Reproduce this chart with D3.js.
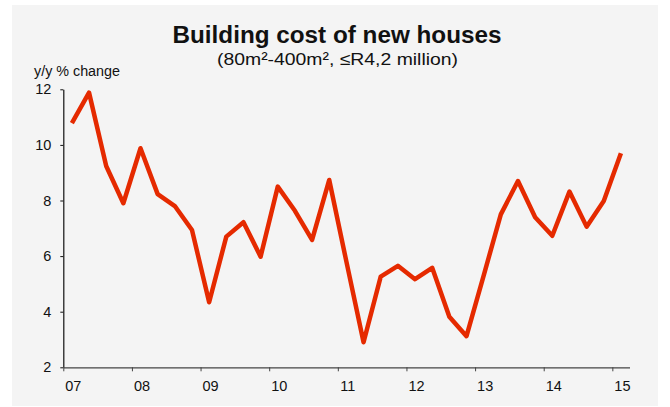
<!DOCTYPE html>
<html>
<head>
<meta charset="utf-8">
<script src="https://cdn.jsdelivr.net/npm/d3@7"></script>
<style>
  html, body { margin: 0; padding: 0; background: #ffffff; }
  svg { display: block; }
  text { font-family: "Liberation Sans", Arial, sans-serif; fill: #111; }
</style>
</head>
<body>
<svg id="chart" width="670" height="407"></svg>
<script>
// Quarterly year-on-year change in building cost, 2007Q1 to 2015Q1
const quarters = [
  "07Q1","07Q2","07Q3","07Q4","08Q1","08Q2","08Q3","08Q4",
  "09Q1","09Q2","09Q3","09Q4","10Q1","10Q2","10Q3","10Q4",
  "11Q1","11Q2","11Q3","11Q4","12Q1","12Q2","12Q3","12Q4",
  "13Q1","13Q2","13Q3","13Q4","14Q1","14Q2","14Q3","14Q4",
  "15Q1"
];
const costChange = [
  10.78, 11.88, 9.24, 7.9, 9.88, 8.23, 7.8, 6.94,
  4.34, 6.7, 7.22, 5.98, 8.5, 7.63, 6.58, 8.74,
  5.8, 2.9, 5.26, 5.65, 5.17, 5.58, 3.82, 3.12,
  5.3, 7.5, 8.7, 7.4, 6.73, 8.32, 7.06, 7.98,
  9.7
];
const yearLabels = ["07","08","09","10","11","12","13","14","15"];
const yTicks = [2, 4, 6, 8, 10, 12];

const svg = d3.select("#chart");

// panel background
svg.append("rect")
  .attr("x", 12).attr("y", 5)
  .attr("width", 646).attr("height", 401)
  .attr("fill", "#f4f4f4");

const plotLeft = 63.3, plotRight = 629.5, plotTop = 89.3, plotBottom = 367.3;

// one slot per quarter; year ticks sit on slot boundaries
const x = d3.scaleLinear().domain([0, quarters.length]).range([plotLeft, plotRight]);
const slot = x(1) - x(0);
const y = d3.scaleLinear().domain([2, 12]).range([plotBottom, plotTop]);

// y axis
const yAxis = svg.append("g")
  .attr("transform", `translate(${plotLeft},0)`)
  .call(d3.axisLeft(y).tickValues(yTicks).tickSize(3).tickSizeOuter(0).tickPadding(9));
yAxis.select(".domain").attr("stroke", "#111").attr("stroke-width", 1.2);
yAxis.selectAll(".tick line").attr("stroke", "#111");
yAxis.selectAll(".tick text")
  .style("font-size", "14.5px")
  .style("font-family", "Liberation Sans, Arial, sans-serif")
  .attr("fill", "#111");

// x axis: ticks at the start of each year, labels over that year's first quarter
const xAxis = svg.append("g")
  .attr("transform", `translate(0,${plotBottom})`)
  .call(d3.axisBottom(x)
    .tickValues(yearLabels.map((d, i) => i * 4))
    .tickFormat((d, i) => yearLabels[i])
    .tickSize(4).tickSizeOuter(0).tickPadding(9));
xAxis.select(".domain").attr("stroke", "#444").attr("stroke-width", 1.2);
xAxis.selectAll(".tick line").attr("stroke", "#444");
xAxis.selectAll(".tick text")
  .attr("x", slot / 2 + 1)
  .style("font-size", "14.5px")
  .style("font-family", "Liberation Sans, Arial, sans-serif")
  .attr("fill", "#111");

// series line
const line = d3.line()
  .x((d, i) => x(i + 0.5))
  .y(d => y(d));

svg.append("path")
  .datum(costChange)
  .attr("d", line)
  .attr("fill", "none")
  .attr("stroke", "#e52a00")
  .attr("stroke-width", 4.5)
  .attr("stroke-linejoin", "round")
  .attr("stroke-linecap", "butt");

// titles
svg.append("text")
  .attr("x", 337).attr("y", 43)
  .attr("text-anchor", "middle")
  .attr("textLength", 329).attr("lengthAdjust", "spacingAndGlyphs")
  .style("font-size", "23px").style("font-weight", "bold")
  .text("Building cost of new houses");

svg.append("text")
  .attr("x", 337.5).attr("y", 65)
  .attr("text-anchor", "middle")
  .attr("textLength", 241).attr("lengthAdjust", "spacingAndGlyphs")
  .style("font-size", "17px")
  .text("(80m²-400m², ≤R4,2 million)");

svg.append("text")
  .attr("x", 34).attr("y", 76)
  .attr("textLength", 86).attr("lengthAdjust", "spacingAndGlyphs")
  .style("font-size", "14px")
  .text("y/y % change");
</script>
</body>
</html>
